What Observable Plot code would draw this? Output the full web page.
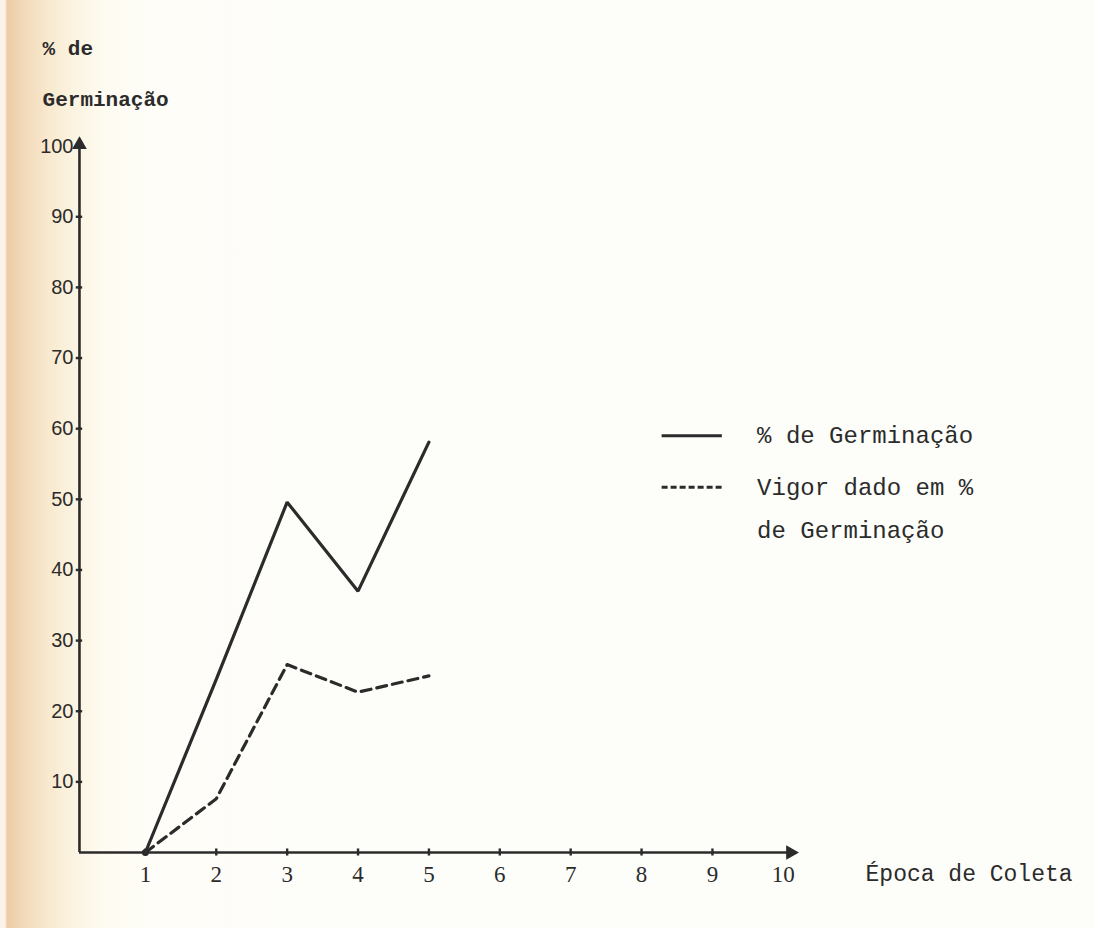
<!DOCTYPE html>
<html>
<head>
<meta charset="utf-8">
<script src="https://cdn.jsdelivr.net/npm/d3@7"></script>
<script src="https://cdn.jsdelivr.net/npm/@observablehq/plot@0.6"></script>
<style>
  html, body { margin: 0; padding: 0; }
  body {
    width: 1094px; height: 928px; overflow: hidden;
    background: linear-gradient(to right, #fbf3ea 0px, #fbf3ea 5px, #edcba6 7px, #f2d8b8 22px, #f8e9cf 48px, #fbf4e2 75px, #fefbf1 105px, #fefdf8 150px, #fdfdfa 400px);
  }
  #chart svg { display: block; }
</style>
</head>
<body>
<div id="chart"></div>
<script>
const epocas = [1, 2, 3, 4, 5];
const germinacao = [0, 24.5, 49.6, 37.0, 58.1];
const vigor = [0, 7.6, 26.6, 22.7, 25.0];
const xTicks = [1, 2, 3, 4, 5, 6, 7, 8, 9, 10];
const yTicks = [10, 20, 30, 40, 50, 60, 70, 80, 90, 100];
const yTitle = ["% de", "Germinação"];
const xTitle = "Época de Coleta";
const legendLabels = ["% de Germinação", "Vigor dado em %", "de Germinação"];

const ink = "#2b2b2b";
const mono = "'Liberation Mono', 'DejaVu Sans Mono', monospace";
const sans = "'Liberation Sans', Arial, sans-serif";
const serif = "'Liberation Serif', 'DejaVu Serif', serif";

const germData = epocas.map((e, i) => ({x: e, y: germinacao[i]}));
const vigorData = epocas.map((e, i) => ({x: e, y: vigor[i]}));
const ax0 = 0.07; // axis origin in x units

const plot = Plot.plot({
  width: 1094,
  height: 928,
  marginLeft: 74,
  marginRight: 297,
  marginTop: 140,
  marginBottom: 76,
  x: {domain: [0, 10.2], axis: null},
  y: {domain: [0, 100.8], axis: null},
  style: {background: "transparent", color: ink, fontFamily: sans, fontSize: "19px"},
  marks: [
    Plot.text(yTicks, {x: 0, y: d => d, text: d => String(d), textAnchor: "end", dx: -1, fontSize: 20, fontFamily: sans, fill: ink}),
    Plot.text(xTicks, {x: d => d, y: 0, text: d => String(d), dy: 22, fontSize: 23, fontFamily: serif, fill: ink}),
    // axes lines
    Plot.ruleX([ax0], {y1: 0, y2: 100.4, stroke: ink, strokeWidth: 2.6}),
    Plot.ruleY([0], {x1: ax0, x2: 10.1, stroke: ink, strokeWidth: 2.6}),
    Plot.dot([{x: ax0, y: 100.2}], {x: "x", y: "y", symbol: "triangle", r: 4.5, fill: ink, stroke: ink}),
    Plot.dot([{x: 10.1, y: 0}], {x: "x", y: "y", symbol: "triangle", r: 4.5, fill: ink, stroke: ink, rotate: 90}),
    // tick marks crossing axes
    Plot.ruleY(yTicks.filter(d => d < 100), {x1: ax0 - 0.045, x2: ax0 + 0.045, y: d => d, stroke: ink, strokeWidth: 2.4}),
    Plot.ruleX(xTicks.filter(d => d < 10), {y1: -0.5, y2: 0.5, x: d => d, stroke: ink, strokeWidth: 2.4}),
    // data lines
    Plot.line(germData, {x: "x", y: "y", stroke: ink, strokeWidth: 3.2, strokeLinejoin: "miter"}),
    Plot.line(vigorData, {x: "x", y: "y", stroke: ink, strokeWidth: 3.2, strokeDasharray: "10,6"}),
    Plot.dot([germData[0]], {x: "x", y: "y", r: 3.5, fill: ink}),
    // axis titles
    Plot.text([yTitle[0]], {x: -0.45, y: 113.8, text: d => d, textAnchor: "start", fontFamily: mono, fontSize: 21, fontWeight: "bold", fill: ink}),
    Plot.text([yTitle[1]], {x: -0.45, y: 106.7, text: d => d, textAnchor: "start", fontFamily: mono, fontSize: 21, fontWeight: "bold", fill: ink}),
    Plot.text([xTitle], {x: 11.16, y: -3.0, text: d => d, textAnchor: "start", fontFamily: mono, fontSize: 23, fill: ink}),
    // legend
    Plot.ruleY([59.0], {x1: 8.29, x2: 9.14, stroke: ink, strokeWidth: 3}),
    Plot.ruleY([51.7], {x1: 8.29, x2: 9.14, stroke: ink, strokeWidth: 3, strokeDasharray: "6,3"}),
    Plot.text([legendLabels[0]], {x: 9.63, y: 59.0, text: d => d, textAnchor: "start", fontFamily: mono, fontSize: 24, fill: ink}),
    Plot.text([legendLabels[1]], {x: 9.63, y: 51.7, text: d => d, textAnchor: "start", fontFamily: mono, fontSize: 24, fill: ink}),
    Plot.text([legendLabels[2]], {x: 9.63, y: 45.6, text: d => d, textAnchor: "start", fontFamily: mono, fontSize: 24, fill: ink})
  ]
});
document.getElementById("chart").appendChild(plot);
</script>
</body>
</html>
